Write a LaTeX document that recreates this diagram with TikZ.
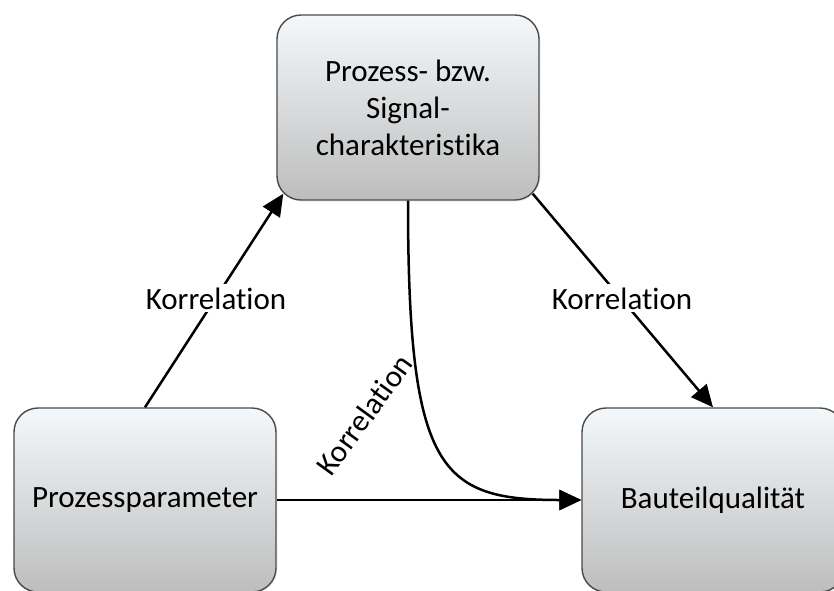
\documentclass[tikz,border=0pt]{standalone}
\usepackage{fontspec}
\setmainfont{Carlito}[Ligatures={NoCommon}]
\usetikzlibrary{arrows.meta,shadows}
\definecolor{boxtop}{HTML}{F4F8FB}
\definecolor{boxbot}{HTML}{BDBDBD}
\definecolor{boxline}{HTML}{4A4A4A}
\tikzset{
  stage/.style={rectangle, rounded corners=24pt, draw=boxline, line width=1.4pt,
    top color=boxtop, bottom color=boxbot, minimum width=262pt,
    align=center, inner sep=0pt,
    font=\fontsize{31}{37}\selectfont,
    drop shadow={opacity=0.12, shadow xshift=1.5pt, shadow yshift=-1.5pt}},
  link/.style={line width=2.5pt, -{Triangle[length=22pt,width=20pt]}},
  corr/.style={font=\fontsize{31}{37}\selectfont, anchor=base, inner sep=3pt}
}
\begin{document}
\begin{tikzpicture}[x=1pt,y=-1pt]
  \useasboundingbox (0,0) rectangle (834,590);
  \clip (0,0) rectangle (834,590);

  % the three stages
  \node[stage, minimum height=185pt] (sig) at (408,107.5)
    {Prozess- bzw.\\Signal-\\charakteristika};
  \node[stage, minimum height=184pt] (pp) at (145,500) {Prozessparameter};
  \node[stage, minimum height=184pt] (bq) at (713,500) {Bauteilqualität};

  % correlations between the stages
  \draw[link] (pp.north) -- ([shift={(7,-7)}]sig.south west);
  \draw[link] ([shift={(-7,-7)}]sig.south east) -- (bq.north);
  \draw[link] (pp.east) -- (bq.west);
  \draw[link] (sig.south) .. controls +(0,270) and +(-142,0) .. (bq.west);

  % labels
  \node[corr, fill=white] (l1) at (216,309) {Korrelation};
  \node[corr, fill=white] (l2) at (622,309) {Korrelation};
  \node[corr, rotate=54] (l3) at (373,421) {Korrelation};
\end{tikzpicture}
\end{document}
